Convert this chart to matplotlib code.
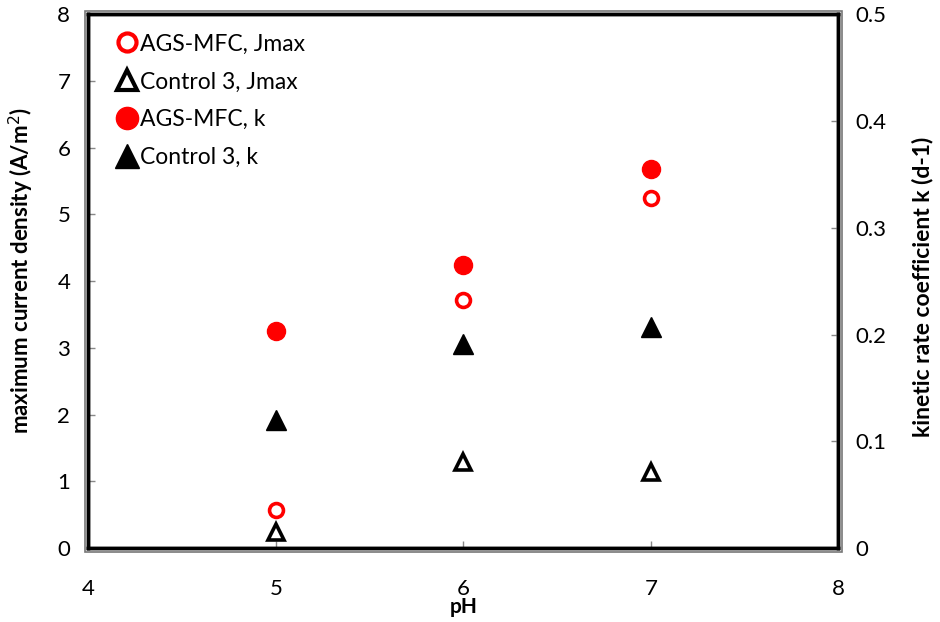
import matplotlib
matplotlib.use("Agg")
import matplotlib.pyplot as plt
from matplotlib.patches import Rectangle
from matplotlib.lines import Line2D

plt.rcParams['font.family'] = ['Lato', 'DejaVu Sans']

ph = [5, 6, 7]
ags_jmax = [0.57, 3.72, 5.24]
ctrl_jmax = [0.24, 1.29, 1.14]
ags_k = [0.203, 0.265, 0.355]
ctrl_k = [0.120, 0.191, 0.207]

fig = plt.figure(figsize=(9.4, 6.22), dpi=100)
L, B, W, H = 0.094, 0.119, 0.798, 0.858
ax = fig.add_axes([L, B, W, H])
ax2 = ax.twinx()

red = '#ff0000'
l1, = ax.plot(ph, ags_jmax, 'o', ms=10, mfc='white', mec=red, mew=2.6, ls='none', label='AGS-MFC, Jmax')
l2, = ax.plot(ph, ctrl_jmax, '^', ms=12, mfc='white', mec='black', mew=2.6, ls='none', label='Control 3, Jmax')
l3, = ax2.plot(ph, ags_k, 'o', ms=13, color=red, ls='none', label='AGS-MFC, k')
l4, = ax2.plot(ph, ctrl_k, '^', ms=15, color='black', ls='none', label='Control 3, k')

ax.set_xlim(4, 8)
ax.set_ylim(0, 8)
ax2.set_ylim(0, 0.5)
ax.set_xticks([4, 5, 6, 7, 8])
ax.set_yticks(range(0, 9))
ax2.set_yticks([0, 0.1, 0.2, 0.3, 0.4, 0.5])
ax2.set_yticklabels(['0', '0.1', '0.2', '0.3', '0.4', '0.5'])

for a in (ax, ax2):
    for s in a.spines.values():
        s.set_linewidth(2.5)
        s.set_color('black')
ax.tick_params(axis='x', direction='in', length=5, width=1, color='#888888', labelsize=16, pad=22)
ax.tick_params(axis='y', direction='in', length=5, width=1, color='#888888', labelsize=16, pad=13)
ax2.tick_params(axis='y', direction='in', length=5, width=1, color='#888888', labelsize=16, pad=12)

ax.set_xlabel('pH', fontsize=15, fontweight='bold', labelpad=-1)
ax.set_ylabel('maximum current density (A/m$^2$)', fontsize=16, fontweight='bold')
ax2.set_ylabel('kinetic rate coefficient k (d-1)', fontsize=16.5, fontweight='bold')
ax.yaxis.set_label_coords(-0.07, 0.52)
ax2.yaxis.set_label_coords(1.097, 0.49)

# outer grey border (double frame look)
fig.patches.append(Rectangle((L - 0.004, B - 0.006), W + 0.008, H + 0.012,
                             transform=fig.transFigure, fill=False, ec='#777777', lw=1.2))

# legend handles with larger markers
h1 = Line2D([], [], marker='o', ms=13, mfc='white', mec=red, mew=3, ls='none')
h2 = Line2D([], [], marker='^', ms=15, mfc='white', mec='black', mew=3, ls='none')
h3 = Line2D([], [], marker='o', ms=16, color=red, ls='none')
h4 = Line2D([], [], marker='^', ms=17, color='black', ls='none')
leg = ax.legend(handles=[h1, h2, h3, h4],
                labels=[l1.get_label(), l2.get_label(), l3.get_label(), l4.get_label()],
                loc='upper left', bbox_to_anchor=(0.018, 0.99),
                frameon=False, fontsize=16.5, handlelength=1.0, handletextpad=0.05,
                labelspacing=0.74, borderaxespad=0.2)

fig.savefig('out.png', dpi=100)
